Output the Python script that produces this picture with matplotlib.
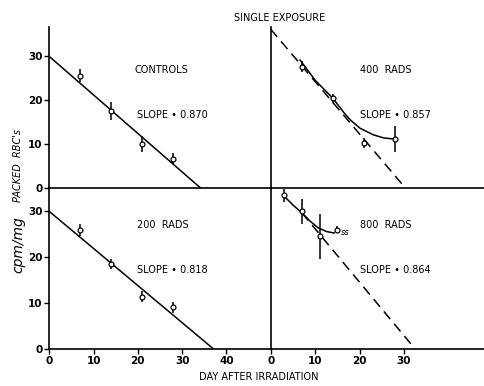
import matplotlib
matplotlib.use("Agg")
import matplotlib.pyplot as plt

# ---- data ----
days = [7, 14, 21, 28]

controls_y = [25.6, 17.6, 10.1, 6.8]
controls_err = [1.5, 2.0, 1.9, 1.2]
controls_fit_x = [0, 34.3]
controls_fit_y = [30, 0]

rads200_y = [26.0, 18.5, 11.4, 9.1]
rads200_err = [1.3, 1.1, 1.2, 1.2]
rads200_fit_x = [0, 37.1]
rads200_fit_y = [30, 0]

rads400_y = [27.7, 20.5, 10.3, 11.2]
rads400_err = [1.3, 1.0, 1.2, 2.9]
rads400_fit_x = [0, 30.4]
rads400_fit_y = [36.2, 0]
rads400_curve_x = [6.6, 10.0, 14.0, 16.5, 17.9, 20.1, 23.1, 25.4, 28.0]
rads400_curve_y = [29.2, 24.6, 20.5, 17.2, 15.6, 13.7, 12.2, 11.5, 11.2]

rads800_days = [3, 7, 11]
rads800_y = [33.5, 30.0, 24.6]
rads800_err = [1.4, 2.7, 4.9]
rads800_ss_day = [15]
rads800_ss_y = [26.0]
rads800_ss_err = [0.8]
rads800_fit_x = [7.0, 32.5]
rads800_fit_y = [29.7, 0]
rads800_curve_x = [3.06, 5.0, 7.0, 8.85, 10.7, 12.6, 14.3]
rads800_curve_y = [33.3, 31.4, 29.7, 27.9, 26.4, 25.6, 25.3]

W, H = 484, 386
fig = plt.figure(figsize=(W / 100, H / 100), dpi=100)
plt.rcParams["font.family"] = "DejaVu Sans"


def px_axes(x0, y0, x1, y1):
    # pixel box (left, top, right, bottom) -> figure fraction axes
    return fig.add_axes([x0 / W, 1 - y1 / H, (x1 - x0) / W, (y1 - y0) / H])


ax_tl = px_axes(49.3, 27, 270.7, 188.5)
ax_tr = px_axes(270.7, 27, 484, 188.5)
ax_bl = px_axes(49.3, 188.5, 270.7, 349)
ax_br = px_axes(270.7, 188.5, 484, 349)

for ax in (ax_tl, ax_tr, ax_bl, ax_br):
    ax.patch.set_alpha(0)
    for s in ("top", "right"):
        ax.spines[s].set_visible(False)
    for s in ("left", "bottom"):
        ax.spines[s].set_linewidth(1.2)
    ax.tick_params(direction="out", length=3.5, width=1.0, labelsize=7.5, pad=1.5)

ax_tl.set_xlim(0, 50)
ax_tr.set_xlim(0, 48)
ax_bl.set_xlim(0, 50)
ax_br.set_xlim(0, 48)
ax_tl.set_ylim(0, 36.7)
ax_tr.set_ylim(0, 36.7)
ax_bl.set_ylim(0, 35)
ax_br.set_ylim(0, 35)

for ax in (ax_tl, ax_bl):
    ax.set_yticks([0, 10, 20, 30])
ax_bl.set_xticks([0, 10, 20, 30, 40])
ax_br.set_xticks([0, 10, 20, 30])
for ax in (ax_tl, ax_tr):
    ax.set_xticks([])
for ax in (ax_tr, ax_br):
    ax.set_yticks([])
for ax in (ax_tl, ax_tr, ax_bl, ax_br):
    for lab in ax.get_xticklabels() + ax.get_yticklabels():
        lab.set_fontweight("bold")

pt_kw = dict(fmt="o", mfc="white", mec="black", color="black", ms=3.5,
             mew=0.9, elinewidth=1.1, capsize=0, zorder=3, clip_on=False)
dash = (0, (6.5, 4))
lw = 1.1
txt = dict(fontsize=7, va="center", ha="left")

# controls
ax_tl.plot(controls_fit_x, controls_fit_y, color="black", lw=lw)
ax_tl.errorbar(days, controls_y, yerr=controls_err, **pt_kw)
ax_tl.text(0.387, 0.734, "CONTROLS", transform=ax_tl.transAxes, **txt)
ax_tl.text(0.396, 0.455, "SLOPE \u2022 0.870", transform=ax_tl.transAxes, **txt)

# 400 rads
ax_tr.plot(rads400_fit_x, rads400_fit_y, color="black", lw=lw, ls=dash)
ax_tr.plot(rads400_curve_x, rads400_curve_y, color="black", lw=lw)
ax_tr.errorbar(days, rads400_y, yerr=rads400_err, **pt_kw)
ax_tr.text(0.419, 0.734, "400  RADS", transform=ax_tr.transAxes, **txt)
ax_tr.text(0.419, 0.455, "SLOPE \u2022 0.857", transform=ax_tr.transAxes, **txt)

# 200 rads
ax_bl.plot(rads200_fit_x, rads200_fit_y, color="black", lw=lw)
ax_bl.errorbar(days, rads200_y, yerr=rads200_err, **pt_kw)
ax_bl.text(0.396, 0.773, "200  RADS", transform=ax_bl.transAxes, **txt)
ax_bl.text(0.396, 0.492, "SLOPE \u2022 0.818", transform=ax_bl.transAxes, **txt)

# 800 rads
ax_br.plot(rads800_fit_x, rads800_fit_y, color="black", lw=lw, ls=dash)
ax_br.plot(rads800_curve_x, rads800_curve_y, color="black", lw=lw)
ax_br.errorbar(rads800_days, rads800_y, yerr=rads800_err, **pt_kw)
ax_br.errorbar(rads800_ss_day, rads800_ss_y, yerr=rads800_ss_err, **pt_kw)
ax_br.text(rads800_ss_day[0] + 0.9, rads800_ss_y[0] - 0.6, "ss",
           fontsize=6, style="italic", va="center", ha="left")
ax_br.text(0.419, 0.773, "800  RADS", transform=ax_br.transAxes, **txt)
ax_br.text(0.419, 0.492, "SLOPE \u2022 0.864", transform=ax_br.transAxes, **txt)

# figure labels
fig.text(280 / W, 1 - 18 / H, "SINGLE EXPOSURE", fontsize=7, ha="center",
         va="center")
fig.text(259 / W, 1 - 377 / H, "DAY AFTER IRRADIATION", fontsize=7,
         ha="center", va="center")
fig.text(18 / W, 1 - 245 / H, "cpm/mg", fontsize=10, style="italic",
         rotation=90, ha="center", va="center")
fig.text(18 / W, 1 - 165 / H, "PACKED  RBC's", fontsize=7, style="italic",
         rotation=90, ha="center", va="center")

fig.savefig("out.png", dpi=100)
